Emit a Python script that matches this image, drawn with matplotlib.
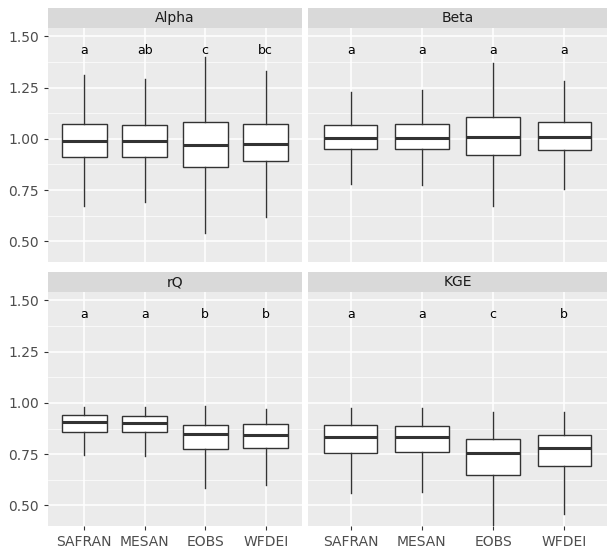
import matplotlib.pyplot as plt

products = ['SAFRAN', 'MESAN', 'EOBS', 'WFDEI']
panels = ['Alpha', 'Beta', 'rQ', 'KGE']
# whisker low, q1, median, q3, whisker high
stats = {
    'Alpha': [(0.675, 0.91, 0.99, 1.07, 1.31), (0.69, 0.91, 0.99, 1.065, 1.29),
              (0.54, 0.865, 0.97, 1.08, 1.40), (0.62, 0.89, 0.975, 1.07, 1.33)],
    'Beta': [(0.78, 0.95, 1.005, 1.065, 1.23), (0.775, 0.95, 1.005, 1.07, 1.24),
             (0.675, 0.92, 1.01, 1.105, 1.37), (0.755, 0.945, 1.01, 1.08, 1.28)],
    'rQ': [(0.745, 0.86, 0.905, 0.94, 0.98), (0.74, 0.86, 0.90, 0.935, 0.98),
           (0.585, 0.775, 0.85, 0.89, 0.985), (0.60, 0.78, 0.845, 0.895, 0.97)],
    'KGE': [(0.56, 0.755, 0.835, 0.89, 0.975), (0.565, 0.76, 0.835, 0.885, 0.975),
            (0.40, 0.65, 0.755, 0.825, 0.955), (0.46, 0.69, 0.78, 0.845, 0.955)],
}
letters = {
    'Alpha': ['a', 'ab', 'c', 'bc'],
    'Beta': ['a', 'a', 'a', 'a'],
    'rQ': ['a', 'a', 'b', 'b'],
    'KGE': ['a', 'a', 'c', 'b'],
}

fig = plt.figure(figsize=(6.11, 5.5), dpi=100)
W, H = 611, 550
boxes = [(48, 28, 254, 234), (308, 28, 299, 234), (48, 292, 254, 234), (308, 292, 299, 234)]
for name, (x, y, w, h) in zip(panels, boxes):
    ax = fig.add_axes([x / W, 1 - (y + h) / H, w / W, h / H])
    ax.set_facecolor('#ebebeb')
    bx = []
    for (lo, q1, med, q3, hi) in stats[name]:
        bx.append(dict(whislo=lo, q1=q1, med=med, q3=q3, whishi=hi, fliers=[]))
    ax.bxp(bx, positions=range(1, 5), widths=0.75, showcaps=False, patch_artist=True,
           boxprops=dict(facecolor='white', edgecolor='#333333', linewidth=1),
           medianprops=dict(color='#333333', linewidth=2.2),
           whiskerprops=dict(color='#333333', linewidth=1))
    for i, t in enumerate(letters[name]):
        ax.text(i + 1, 1.43, t, ha='center', va='center', fontsize=9)
    ax.set_xlim(0.4, 4.6)
    ax.set_ylim(0.40, 1.54)
    ax.set_yticks([0.5, 0.75, 1.0, 1.25, 1.5])
    ax.set_yticks([0.625, 0.875, 1.125, 1.375], minor=True)
    ax.grid(True, which='major', color='white', linewidth=1.1)
    ax.grid(True, which='minor', color='white', linewidth=0.5)
    ax.set_axisbelow(True)
    for s in ax.spines.values():
        s.set_visible(False)
    ax.tick_params(which='both', length=3, color='#333333', labelsize=10, labelcolor='#4d4d4d')
    ax.tick_params(which='minor', length=0)
    if x == 48:
        ax.set_yticklabels(['0.50', '0.75', '1.00', '1.25', '1.50'])
    else:
        ax.tick_params(axis='y', labelleft=False, length=0)
    ax.set_xticks(range(1, 5))
    if y == 292:
        ax.set_xticklabels(products)
    else:
        ax.tick_params(axis='x', labelbottom=False, length=0)
    sax = fig.add_axes([x / W, 1 - y / H, w / W, 20 / H])
    sax.set_facecolor('#d9d9d9')
    sax.set_xticks([]); sax.set_yticks([])
    for s in sax.spines.values():
        s.set_visible(False)
    sax.text(0.5, 0.5, name, ha='center', va='center', fontsize=10, color='#1a1a1a',
             transform=sax.transAxes)

fig.savefig('out.png', dpi=100)
